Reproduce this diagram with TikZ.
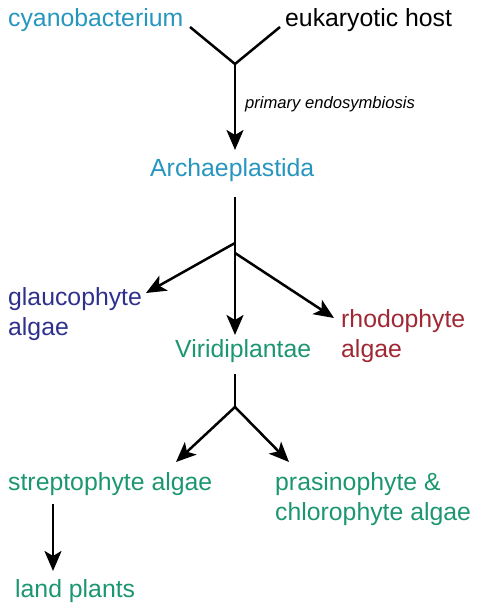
\documentclass[tikz,border=0pt]{standalone}
\usepackage{fontspec}
\setmainfont{Liberation Sans}
\usetikzlibrary{arrows.meta}
\definecolor{cyanc}{RGB}{38,150,190}
\definecolor{greenc}{RGB}{28,150,112}
\definecolor{glauc}{RGB}{46,48,140}
\definecolor{rhodc}{RGB}{160,40,52}
\begin{document}
\begin{tikzpicture}[x=1pt,y=-1pt,
  lbl/.style={anchor=base west,inner sep=0pt,align=left,font=\fontsize{24.8}{30}\selectfont},
  conn/.style={line width=2.5pt,black},
  arr/.style={conn,-{Stealth[length=20pt,width=17pt,inset=5pt]}}]
\useasboundingbox (0,0) rectangle (480,612);
% labels (base anchor = baseline of last line)
\node[lbl,text=cyanc] (cyano) at (8,26.5) {cyanobacterium};
\node[lbl,text=black] (host) at (285,26.5) {eukaryotic host};
\node[anchor=base west,inner sep=0pt,font=\fontsize{16.6}{20}\selectfont\itshape] (pe) at (245,109) {primary endosymbiosis};
\node[lbl,text=cyanc] (arch) at (150,177) {Archaeplastida};
\node[lbl,text=glauc] (glau) at (8,335) {glaucophyte\\algae};
\node[lbl,text=greenc] (viri) at (175,357) {Viridiplantae};
\node[lbl,text=rhodc] (rhod) at (341,357) {rhodophyte\\algae};
\node[lbl,text=greenc] (strep) at (8,490) {streptophyte algae};
\node[lbl,text=greenc] (pras) at (275,520) {prasinophyte \&\\chlorophyte algae};
\node[lbl,text=greenc] (land) at (15,597) {land plants};
% coordinates
\coordinate (c1) at (190,27);
\coordinate (h1) at (280,27);
\coordinate (j1) at (235,64);
\coordinate (t1) at (235,150);
\coordinate (a1) at (235,197);
\coordinate (j2) at (235,243);
\coordinate (j2b) at (235,253);
\coordinate (tg) at (146,293);
\coordinate (tv) at (235,335);
\coordinate (tr) at (334,318);
\coordinate (v1) at (235,374);
\coordinate (j3) at (235,407);
\coordinate (ts) at (176,462);
\coordinate (tp) at (289,462);
\coordinate (s1) at (53,504);
\coordinate (tl) at (53,571);
% connectors
\draw[conn,line join=miter] (c1) -- (j1) -- (h1);
\draw[arr] (j1) -- (t1);
\draw[conn] (a1) -- (j2);
\draw[arr] (j2) -- (tg);
\draw[arr] (j2) -- (tv);
\draw[arr] (j2b) -- (tr);
\draw[conn] (v1) -- (j3);
\draw[arr] (j3) -- (ts);
\draw[arr] (j3) -- (tp);
\draw[arr] (s1) -- (tl);
\end{tikzpicture}
\end{document}
